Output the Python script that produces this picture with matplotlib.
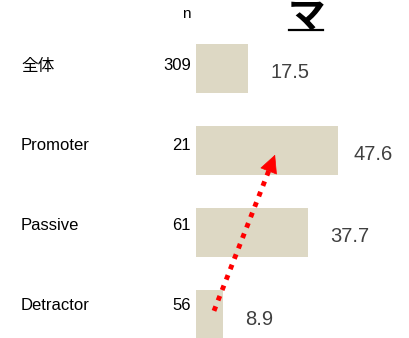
import matplotlib.pyplot as plt

plt.rcParams['font.family'] = ['Liberation Sans', 'Noto Sans CJK JP', 'DejaVu Sans']

# セグメント別のスコア
categories = ['全体', 'Promoter', 'Passive', 'Detractor']
n_counts = [309, 21, 61, 56]
scores = [17.5, 47.6, 37.7, 8.9]

W, H = 409, 338
fig = plt.figure(figsize=(W / 100, H / 100), dpi=100)

# 棒グラフ本体 (左端 x=196px, 1単位 ≈ 2.98px)
ax = fig.add_axes([196 / W, 0, 179 / W, 1])
ax.set_xlim(0, 60)
ax.set_ylim(3.28, -0.833)
ax.axis('off')

ypos = list(range(len(categories)))
ax.barh(ypos, scores, height=0.6, color='#ddd8c4', align='center')

for y, v in zip(ypos, scores):
    ax.text(min(v + 7.4, 52.8), y + 0.05, f'{v}', ha='left', va='center',
            fontsize=14.5, color='#404040')

# ラベルと n
for i, (cat, n) in enumerate(zip(categories, n_counts)):
    py = 1 - (70.5 + 79.7 * i) / H
    fig.text(21 / W, py, cat, ha='left', va='baseline', fontsize=12, color='black')
    fig.text(191 / W, py, str(n), ha='right', va='baseline', fontsize=12, color='black')

fig.text(186 / W, 1 - 18 / H, 'n', ha='center', va='baseline', fontsize=11, color='black')

# 見出し (上端が切れている)
fig.text(306 / W, 1 - 28 / H, 'マ', ha='center', va='baseline',
         fontsize=27, fontweight='bold', color='black')
fig.add_artist(plt.Line2D([289 / W, 323 / W], [1 - 29.5 / H, 1 - 29.5 / H],
                          color='black', lw=1.6))

# Detractor → Promoter の矢印 (点線 + 塗りつぶしの矢じり)
start = (6.03, 2.95)
tip = (26.5, 1.05)
base = (start[0] + (tip[0] - start[0]) * 0.92, start[1] + (tip[1] - start[1]) * 0.92)
ax.plot([start[0], base[0]], [start[1], base[1]], color='red', lw=3.5,
        linestyle=(0, (1, 1.3)), dash_capstyle='butt', solid_capstyle='butt')
ax.annotate('', xy=tip, xytext=base,
            arrowprops=dict(arrowstyle='-|>,head_length=0.6,head_width=0.3',
                            color='red', lw=0.5, mutation_scale=20,
                            shrinkA=0, shrinkB=0))

fig.savefig('out.png', dpi=100)
